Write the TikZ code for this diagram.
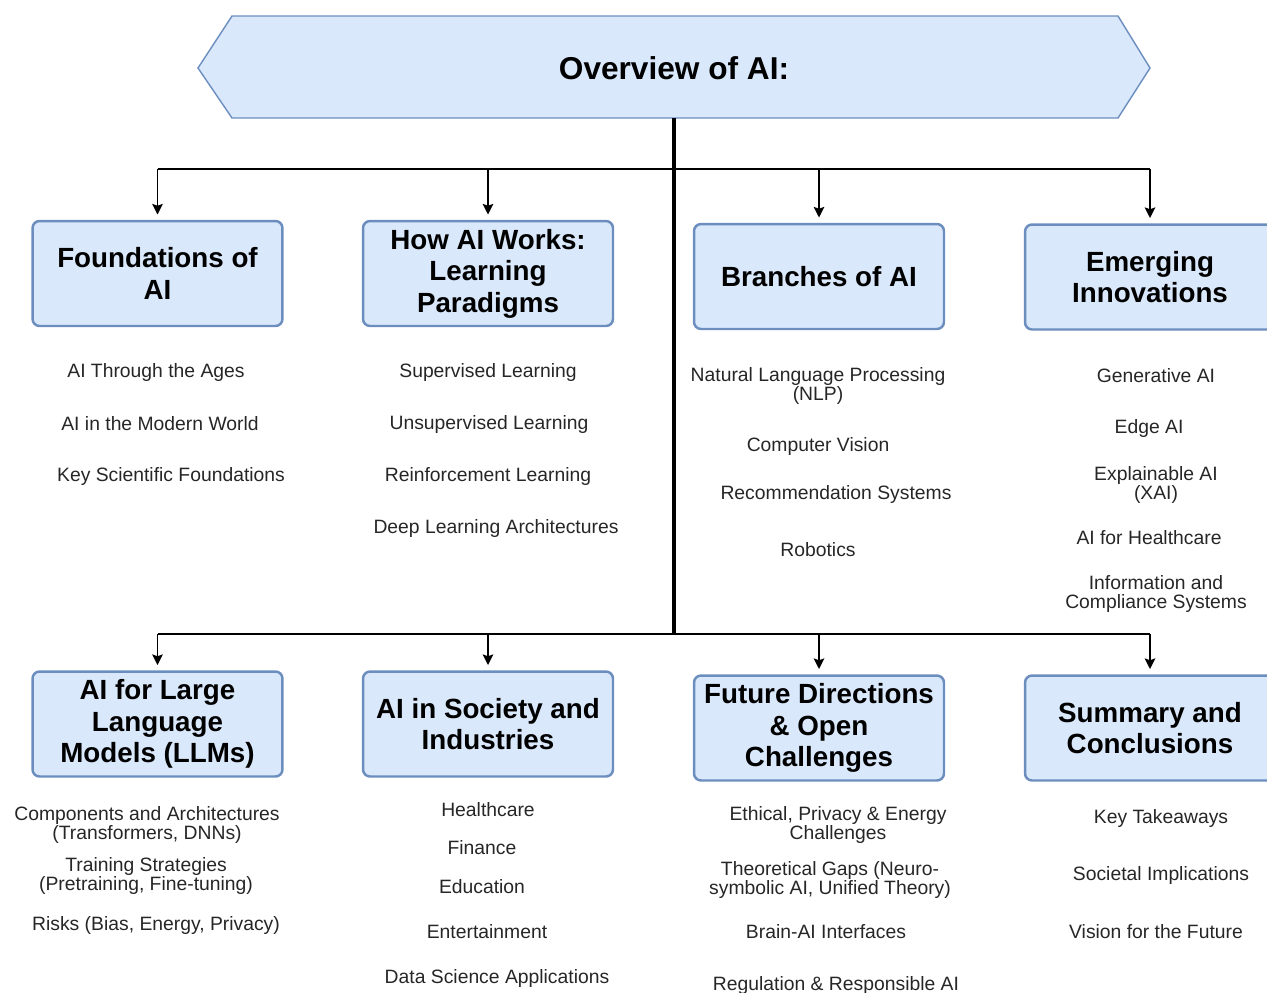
\documentclass[tikz,border=0pt]{standalone}
\usepackage{fontspec}
\setmainfont{Liberation Sans}
\usetikzlibrary{positioning,arrows.meta}
\definecolor{boxfill}{HTML}{DAE8FC}
\definecolor{boxline}{HTML}{6C8EBF}
\tikzset{
  topic/.style={draw=boxline, fill=boxfill, line width=1.4pt, rounded corners=4pt,
    minimum width=5cm, minimum height=2.1cm, align=center,
    font=\bfseries\fontsize{15.8}{18}\selectfont},
  item/.style={align=center, inner sep=1pt, text=black!85,
    font=\fontsize{11}{11}\selectfont},
  link/.style={line width=1.1pt, -{Stealth[length=6pt,width=6pt,inset=1pt]}},
  bus/.style={line width=1.1pt}
}
\begin{document}
\begin{tikzpicture}[x=0.02cm, y=-0.02cm]
\useasboundingbox (0,0) rectangle (1267,992);
%banner
\draw[draw=boxline, fill=boxfill, line width=0.8pt]
  (198,68)--(232,16)--(1118,16)--(1150,68)--(1118,118)--(232,118)--cycle;
\node[font=\bfseries\fontsize{18}{22}\selectfont] (title) at (674,68) {Overview of AI:};
\coordinate (stem) at (674,118);
%topics
\node[topic] (found) at (157.5,273.5) {Foundations of\\AI};
\node[topic] (works) at (488,273.5) {How AI Works:\\Learning\\Paradigms};
\node[topic] (branch) at (819,276.5) {Branches of AI};
\node[topic] (emerg) at (1150,277) {Emerging\\Innovations};
\node[topic] (llm) at (157.5,724) {AI for Large\\Language\\Models (LLMs)};
\node[topic] (society) at (488,724) {AI in Society and\\Industries};
\node[topic] (future) at (819,728) {Future Directions\\\& Open\\Challenges};
\node[topic] (summ) at (1150,728) {Summary and\\Conclusions};
%bus
\coordinate (hubT) at (674,169);
\coordinate (hubB) at (674,634);
\draw[line width=1.8pt] (stem)--(hubB);
\draw[bus] (found.north|-hubT)--(emerg.north|-hubT);
\draw[bus] (llm.north|-hubB)--(summ.north|-hubB);
\foreach \t in {found,works,branch,emerg}
  \draw[link] (\t.north|-hubT)--([yshift=3pt]\t.north);
\foreach \t in {llm,society,future,summ}
  \draw[link] (\t.north|-hubB)--([yshift=3pt]\t.north);
%foundations items
\node[item] (f1) at (156,372) {AI Through the Ages};
\node[item] (f2) at (160,424) {AI in the Modern World};
\node[item] (f3) at (171,476) {Key Scientific Foundations};
%learning items
\node[item] (w1) at (488,372) {Supervised Learning};
\node[item] (w2) at (489,424) {Unsupervised Learning};
\node[item] (w3) at (488,476) {Reinforcement Learning};
\node[item] (w4) at (496,528) {Deep Learning Architectures};
%branches items
\node[item] (b1) at (818,386) {Natural Language Processing\\(NLP)};
\node[item] (b2) at (818,446) {Computer Vision};
\node[item] (b3) at (836,494) {Recommendation Systems};
\node[item] (b4) at (818,550) {Robotics};
%emerging items
\node[item] (e1) at (1156,376) {Generative AI};
\node[item] (e2) at (1149,428) {Edge AI};
\node[item] (e3) at (1156,485) {Explainable AI\\(XAI)};
\node[item] (e4) at (1149,538) {AI for Healthcare};
\node[item] (e5) at (1156,594) {Information and\\Compliance Systems};
%llm items
\node[item] (l1) at (147,825) {Components and Architectures\\(Transformers, DNNs)};
\node[item] (l2) at (146,876) {Training Strategies\\(Pretraining, Fine-tuning)};
\node[item] (l3) at (156,925) {Risks (Bias, Energy, Privacy)};
%society items
\node[item] (s1) at (488,810) {Healthcare};
\node[item] (s2) at (482,848) {Finance};
\node[item] (s3) at (482,887) {Education};
\node[item] (s4) at (487,932) {Entertainment};
\node[item] (s5) at (497,978) {Data Science Applications};
%future items
\node[item] (d1) at (838,825) {Ethical, Privacy \& Energy\\Challenges};
\node[item] (d2) at (830,880) {Theoretical Gaps (Neuro-\\symbolic AI, Unified Theory)};
\node[item] (d3) at (826,932) {Brain-AI Interfaces};
\node[item] (d4) at (836,985) {Regulation \& Responsible AI};
%summary items
\node[item] (c1) at (1161,818) {Key Takeaways};
\node[item] (c2) at (1161,875) {Societal Implications};
\node[item] (c3) at (1156,932) {Vision for the Future};
\end{tikzpicture}
\end{document}
